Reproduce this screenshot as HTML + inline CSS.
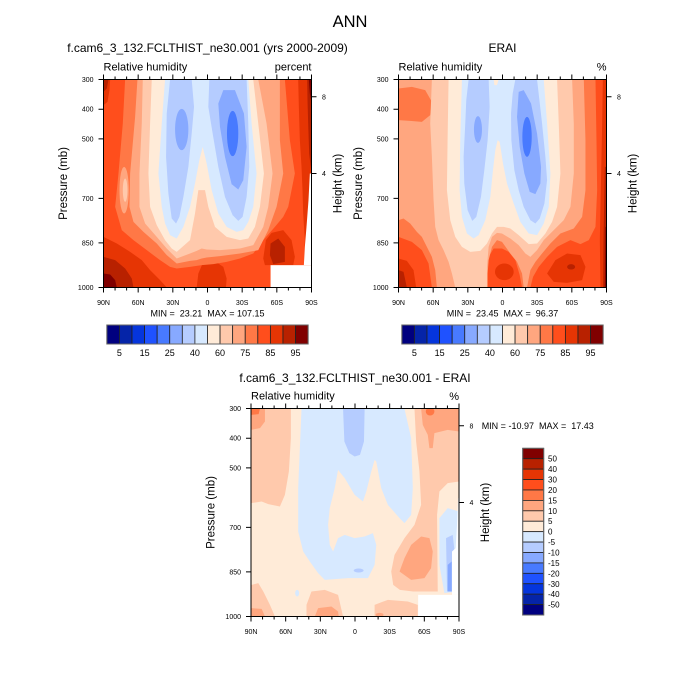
<!DOCTYPE html>
<html><head><meta charset="utf-8"><style>
html,body{margin:0;padding:0;background:#fff;}
svg{display:block;font-family:"Liberation Sans",Arial,sans-serif;}
</style></head><body>
<svg width="700" height="700" viewBox="0 0 700 700" xmlns="http://www.w3.org/2000/svg">
<defs>
<g id="frame">
<rect x="0" y="0" width="208" height="208" fill="none" stroke="#000" stroke-width="1"/>
<path fill="none" stroke="#000" stroke-width="1" d="M0 0V-5M11.56 0V-3M23.11 0V-3M34.67 0V-5M46.22 0V-3M57.78 0V-3M69.33 0V-5M80.89 0V-3M92.44 0V-3M104 0V-5M115.56 0V-3M127.11 0V-3M138.67 0V-5M150.22 0V-3M161.78 0V-3M173.33 0V-5M184.89 0V-3M196.44 0V-3M208 0V-5"/>
<path fill="none" stroke="#000" stroke-width="1" d="M0 208V213M11.56 208V211M23.11 208V211M34.67 208V213M46.22 208V211M57.78 208V211M69.33 208V213M80.89 208V211M92.44 208V211M104 208V213M115.56 208V211M127.11 208V211M138.67 208V213M150.22 208V211M161.78 208V211M173.33 208V213M184.89 208V211M196.44 208V211M208 208V213"/>
<path fill="none" stroke="#000" stroke-width="1" d="M0 0H-5M0 29.71H-5M0 59.43H-5M0 118.86H-5M0 163.43H-5M0 208H-5M208 17.3H213M208 94H213"/>
<g font-size="7" text-anchor="end">
<text x="-10" y="2.5">300</text>
<text x="-10" y="32.2">400</text>
<text x="-10" y="61.9">500</text>
<text x="-10" y="121.4">700</text>
<text x="-10" y="165.9">850</text>
<text x="-10" y="210.5">1000</text>
</g>
<g font-size="7" text-anchor="middle">
<text x="0" y="225.5">90N</text>
<text x="34.67" y="225.5">60N</text>
<text x="69.33" y="225.5">30N</text>
<text x="104" y="225.5">0</text>
<text x="138.67" y="225.5">30S</text>
<text x="173.33" y="225.5">60S</text>
<text x="208" y="225.5">90S</text>
</g>
<g font-size="7">
<text x="218.5" y="19.8">8</text>
<text x="218.5" y="96.5">4</text>
</g>
<text font-size="11" x="0" y="-9">Relative humidity</text>
<text font-size="11.5" text-anchor="middle" transform="translate(-36.5,104) rotate(-90)">Pressure (mb)</text>
<text font-size="11.5" text-anchor="middle" transform="translate(238,104) rotate(-90)">Height (km)</text>
</g>
</defs>

<text x="350" y="27" font-size="16.5" text-anchor="middle">ANN</text>
<text x="207.5" y="52" font-size="12" text-anchor="middle">f.cam6_3_132.FCLTHIST_ne30.001 (yrs 2000-2009)</text>
<text x="502.5" y="52" font-size="12" text-anchor="middle">ERAI</text>
<text x="355" y="382" font-size="12" text-anchor="middle">f.cam6_3_132.FCLTHIST_ne30.001 - ERAI</text>
<text x="311.5" y="70.5" font-size="11" text-anchor="end">percent</text>
<text x="606.5" y="70.5" font-size="11" text-anchor="end">%</text>
<text x="459" y="400" font-size="11" text-anchor="end">%</text>

<!-- Top-left panel -->
<g transform="translate(103.5,79.5)">
<svg x="0" y="0" width="208" height="208" viewBox="160 118 625 624" preserveAspectRatio="none">
<rect x="160" y="118" width="625" height="624" fill="#ff4e1c"/>
<polygon fill="#e63504" points="160,118 180,118 178,150 172,185 160,195"/>
<polygon fill="#e63504" points="745,118 785,118 785,675 762,675 765,600 760,520 758,450 755,380 750,300 747,200"/>
<polygon fill="#e63504" points="160,590 200,610 240,635 275,660 300,690 330,720 350,742 160,742"/>
<polygon fill="#e63504" points="440,742 445,700 460,665 490,660 520,680 530,715 528,742"/>
<polygon fill="#e63504" points="640,655 648,600 665,578 700,570 725,600 735,650 730,675 662,675 645,675"/>
<polygon fill="#b82100" points="160,118 175,118 170,145 160,155"/>
<polygon fill="#b82100" points="772,118 785,118 785,400 778,340 775,250 773,180"/>
<polygon fill="#b82100" points="160,650 195,660 225,685 245,715 250,742 160,742"/>
<polygon fill="#b82100" points="662,610 685,595 705,620 705,665 670,672 660,645"/>
<polygon fill="#800000" points="160,700 180,703 195,720 200,742 160,742"/>
<polygon fill="#800000" points="777,118 785,118 785,190 780,160"/>
<polygon fill="#ff7846" points="225,118 705,118 720,300 735,400 715,500 700,530 675,560 640,600 610,640 570,655 530,665 490,672 455,675 420,680 380,685 360,680 330,660 290,630 250,600 215,570 195,500 205,400 218,250"/>
<polygon fill="#ffa67f" points="262,118 690,118 690,300 700,400 680,500 655,570 625,630 570,640 510,648 470,652 455,655 440,660 420,662 380,670 350,645 320,610 280,575 250,545 238,500 240,400 255,230"/>
<ellipse fill="#ffa67f" cx="222" cy="450" rx="14" ry="70"/>
<ellipse fill="#ffc9ac" cx="225" cy="450" rx="7" ry="35"/>
<polygon fill="#ffc9ac" points="278,118 625,118 650,250 668,400 655,500 640,560 610,615 570,625 510,630 470,628 455,625 440,632 420,640 380,655 350,625 320,590 285,550 268,500 268,400 275,250"/>
<polygon fill="#ffebd8" points="305,118 610,118 625,250 642,400 630,500 615,560 595,595 570,600 530,590 495,560 475,500 465,450 445,450 435,520 420,600 380,635 365,625 345,600 320,555 300,500 295,400 300,250"/>
<polygon fill="#d7e9ff" points="345,118 595,118 605,250 620,400 610,500 595,545 580,570 560,575 530,560 505,520 485,450 470,370 458,320 448,360 435,430 420,500 400,560 380,595 360,585 345,550 335,500 325,400 335,250"/>
<polygon fill="#b5ccff" points="360,118 425,118 432,200 425,280 415,380 400,470 388,530 378,550 365,535 355,460 348,350 350,220"/>
<polygon fill="#b5ccff" points="478,118 590,118 595,250 598,380 590,470 578,530 565,542 548,525 525,470 505,380 488,280 475,200"/>
<ellipse fill="#87a9ff" cx="395" cy="268" rx="20" ry="62"/>
<polygon fill="#87a9ff" points="520,150 555,150 582,220 590,320 580,420 565,448 545,432 525,350 510,260 505,190"/>
<ellipse fill="#487aff" cx="548" cy="280" rx="17" ry="68"/>
<rect x="662" y="675" width="123" height="67" fill="#fff"/>
<polygon fill="#fff" points="785,400 780,400 776,480 770,560 765,620 762,675 785,675"/>
</svg>
<use href="#frame"/>
</g>

<!-- Top-right panel -->
<g transform="translate(398.5,79.5)">
<svg x="0" y="0" width="208" height="208" viewBox="145 118 623 624" preserveAspectRatio="none">
<rect x="145" y="118" width="623" height="624" fill="#ff4e1c"/>
<polygon fill="#ff7846" points="145,118 735,118 738,300 740,450 735,560 715,600 690,612 660,600 620,620 590,650 565,680 548,710 540,742 515,742 508,705 495,660 475,635 455,625 430,625 415,650 410,700 410,742 245,742 235,670 215,630 185,605 145,590"/>
<polygon fill="#ffa67f" points="145,118 700,118 705,300 705,450 695,530 670,565 630,580 600,610 575,640 555,665 540,690 530,742 520,742 515,700 500,665 480,640 455,605 440,600 425,620 415,660 412,700 412,742 260,742 255,690 245,650 230,620 215,590 200,575 180,550 160,535 145,540"/>
<polygon fill="#ff7846" points="145,145 185,140 225,150 245,185 240,225 215,245 180,242 145,240"/>
<polygon fill="#ffc9ac" points="245,118 665,118 670,250 670,400 660,500 640,540 610,570 580,600 560,630 540,650 525,640 505,615 480,595 455,580 440,578 425,590 415,620 410,680 410,742 315,742 305,700 295,665 280,630 265,600 255,560 250,480 245,350 240,250"/>
<polygon fill="#ffebd8" points="295,118 620,118 625,250 630,400 620,500 605,545 585,580 560,610 535,612 505,585 480,565 460,560 440,560 425,580 410,610 390,632 360,635 335,620 315,590 300,540 290,450 292,300"/>
<polygon fill="#d7e9ff" points="335,118 430,118 432,135 440,135 445,118 580,118 590,250 600,400 595,500 580,550 560,585 535,580 510,545 490,490 470,430 458,370 448,305 442,300 435,330 428,390 420,470 405,540 385,585 370,595 350,580 335,530 328,450 330,300"/>
<polygon fill="#b5ccff" points="355,118 415,118 418,200 412,300 402,390 392,470 378,530 366,542 352,510 342,430 340,350 345,250 348,180"/>
<polygon fill="#b5ccff" points="495,118 560,118 575,250 585,350 590,420 582,490 568,535 555,550 540,540 520,500 505,450 492,390 483,300 482,220 487,160"/>
<ellipse fill="#87a9ff" cx="383" cy="268" rx="12" ry="40"/>
<polygon fill="#87a9ff" points="505,155 520,150 542,190 560,280 572,380 570,430 555,462 538,455 522,400 508,320 500,230"/>
<ellipse fill="#487aff" cx="530" cy="290" rx="14" ry="60"/>
<polygon fill="#e63504" points="757,118 768,118 768,742 750,742 748,600 752,400 755,250"/>
<polygon fill="#b82100" points="763,380 768,380 768,742 758,742 759,600"/>
<polygon fill="#800000" points="765,560 768,560 768,742 763,742"/>
<polygon fill="#e63504" points="145,655 170,662 190,690 198,742 145,742"/>
<polygon fill="#b82100" points="145,690 160,695 170,742 145,742"/>
<ellipse fill="#e63504" cx="462" cy="695" rx="28" ry="25"/>
<polygon fill="#e63504" points="590,700 615,660 650,640 690,645 705,680 695,720 650,728 610,725"/>
<ellipse fill="#b82100" cx="662" cy="680" rx="12" ry="8"/>
</svg>
<use href="#frame"/>
</g>

<!-- Bottom panel -->
<g transform="translate(251,408.5)">
<svg x="0" y="0" width="208" height="208" viewBox="152 131 626 624" preserveAspectRatio="none">
<rect x="152" y="131" width="626" height="624" fill="#ffebd8"/>
<polygon fill="#ffc9ac" points="152,131 272,131 272,220 266,320 254,390 239,425 204,418 184,410 152,415"/>
<polygon fill="#ffa67f" points="152,131 194,131 194,170 179,190 152,195"/>
<polygon fill="#ff7846" points="152,131 179,131 175,148 152,150"/>
<polygon fill="#ffc9ac" points="644,131 778,131 778,350 744,355 719,380 712,450 714,680 640,680 600,675 580,660 574,620 584,570 614,520 644,480 664,420 659,320 649,230"/>
<polygon fill="#ffa67f" points="664,131 778,131 778,200 744,195 704,205 699,250 689,250 684,210 669,180"/>
<ellipse fill="#ff7846" cx="691" cy="140" rx="13" ry="12"/>
<polygon fill="#ffa67f" points="599,620 614,580 634,540 664,515 689,520 699,560 694,610 674,640 634,645"/>
<polygon fill="#d7e9ff" points="304,132 614,132 634,220 639,370 634,450 614,475 599,460 564,420 544,370 529,290 524,285 514,320 499,380 489,410 464,390 434,340 414,315 404,370 389,430 384,480 389,540 399,560 414,520 434,510 464,520 494,515 519,505 529,540 524,600 504,640 444,640 374,645 354,625 329,590 309,560 294,500 294,370"/>
<polygon fill="#b5ccff" points="429,131 494,131 492,230 480,270 464,275 448,265 433,230 431,180"/>
<ellipse fill="#b5ccff" cx="476" cy="617" rx="15" ry="6"/>
<polygon fill="#d7e9ff" points="719,460 744,430 778,440 778,680 734,685 719,600"/>
<polygon fill="#b5ccff" points="739,520 759,510 766,570 762,680 742,680"/>
<polygon fill="#87a9ff" points="744,600 756,590 756,680 744,680"/>
<polygon fill="#ffc9ac" points="154,660 174,655 189,680 209,720 224,755 152,755 152,660"/>
<polygon fill="#ffa67f" points="152,730 184,732 194,755 152,755"/>
<polygon fill="#ffc9ac" points="319,720 334,680 374,675 414,690 429,755 319,755"/>
<polygon fill="#ffa67f" points="344,755 354,730 394,725 414,740 416,755"/>
<polygon fill="#ffc9ac" points="524,720 564,705 624,710 654,720 654,755 524,755"/>
<ellipse fill="#ffa67f" cx="539" cy="750" rx="12" ry="6"/>
<ellipse fill="#d7e9ff" cx="291" cy="685" rx="6" ry="10"/>
<rect x="655" y="690" width="123" height="65" fill="#fff"/>
<polygon fill="#fff" points="778,400 775,400 772,480 768,550 757,560 757,690 778,690"/>
</svg>
<use href="#frame"/>
</g>

<!-- MIN/MAX texts -->
<text x="207.5" y="316.5" font-size="9" text-anchor="middle" xml:space="preserve" style="white-space:pre">MIN =  23.21  MAX = 107.15</text>
<text x="502.5" y="316.5" font-size="9" text-anchor="middle" xml:space="preserve" style="white-space:pre">MIN =  23.45  MAX =  96.37</text>
<text x="481.7" y="429" font-size="9" xml:space="preserve" style="white-space:pre">MIN = -10.97  MAX =  17.43</text>

<!-- Top-left colorbar -->
<g stroke="#222" stroke-width="0.8">
<rect x="106.85" y="325" width="12.58" height="19" fill="#00007f"/>
<rect x="119.43" y="325" width="12.58" height="19" fill="#0524a8"/>
<rect x="132.01" y="325" width="12.58" height="19" fill="#0535dc"/>
<rect x="144.59" y="325" width="12.58" height="19" fill="#1f52ff"/>
<rect x="157.17" y="325" width="12.58" height="19" fill="#487aff"/>
<rect x="169.75" y="325" width="12.58" height="19" fill="#87a9ff"/>
<rect x="182.33" y="325" width="12.58" height="19" fill="#b5ccff"/>
<rect x="194.91" y="325" width="12.58" height="19" fill="#d7e9ff"/>
<rect x="207.49" y="325" width="12.58" height="19" fill="#ffebd8"/>
<rect x="220.07" y="325" width="12.58" height="19" fill="#ffc9ac"/>
<rect x="232.65" y="325" width="12.58" height="19" fill="#ffa67f"/>
<rect x="245.23" y="325" width="12.58" height="19" fill="#ff7846"/>
<rect x="257.81" y="325" width="12.58" height="19" fill="#ff4e1c"/>
<rect x="270.39" y="325" width="12.58" height="19" fill="#e63504"/>
<rect x="282.97" y="325" width="12.58" height="19" fill="#b82100"/>
<rect x="295.55" y="325" width="12.58" height="19" fill="#800000"/>
</g>
<rect x="106.85" y="325" width="201.28" height="19" fill="none" stroke="#666" stroke-width="1"/>
<g font-size="9" text-anchor="middle">
<text x="119.43" y="356">5</text>
<text x="144.59" y="356">15</text>
<text x="169.75" y="356">25</text>
<text x="194.91" y="356">40</text>
<text x="220.07" y="356">60</text>
<text x="245.23" y="356">75</text>
<text x="270.39" y="356">85</text>
<text x="295.55" y="356">95</text>
</g>

<!-- Top-right colorbar -->
<g stroke="#222" stroke-width="0.8">
<rect x="401.85" y="325" width="12.58" height="19" fill="#00007f"/>
<rect x="414.43" y="325" width="12.58" height="19" fill="#0524a8"/>
<rect x="427.01" y="325" width="12.58" height="19" fill="#0535dc"/>
<rect x="439.59" y="325" width="12.58" height="19" fill="#1f52ff"/>
<rect x="452.17" y="325" width="12.58" height="19" fill="#487aff"/>
<rect x="464.75" y="325" width="12.58" height="19" fill="#87a9ff"/>
<rect x="477.33" y="325" width="12.58" height="19" fill="#b5ccff"/>
<rect x="489.91" y="325" width="12.58" height="19" fill="#d7e9ff"/>
<rect x="502.49" y="325" width="12.58" height="19" fill="#ffebd8"/>
<rect x="515.07" y="325" width="12.58" height="19" fill="#ffc9ac"/>
<rect x="527.65" y="325" width="12.58" height="19" fill="#ffa67f"/>
<rect x="540.23" y="325" width="12.58" height="19" fill="#ff7846"/>
<rect x="552.81" y="325" width="12.58" height="19" fill="#ff4e1c"/>
<rect x="565.39" y="325" width="12.58" height="19" fill="#e63504"/>
<rect x="577.97" y="325" width="12.58" height="19" fill="#b82100"/>
<rect x="590.55" y="325" width="12.58" height="19" fill="#800000"/>
</g>
<rect x="401.85" y="325" width="201.28" height="19" fill="none" stroke="#666" stroke-width="1"/>
<g font-size="9" text-anchor="middle">
<text x="414.43" y="356">5</text>
<text x="439.59" y="356">15</text>
<text x="464.75" y="356">25</text>
<text x="489.91" y="356">40</text>
<text x="515.07" y="356">60</text>
<text x="540.23" y="356">75</text>
<text x="565.39" y="356">85</text>
<text x="590.55" y="356">95</text>
</g>

<!-- Bottom vertical colorbar -->
<g stroke="#222" stroke-width="0.8">
<rect x="522.7" y="448.3" width="21" height="10.42" fill="#800000"/>
<rect x="522.7" y="458.72" width="21" height="10.42" fill="#b82100"/>
<rect x="522.7" y="469.14" width="21" height="10.42" fill="#e63504"/>
<rect x="522.7" y="479.56" width="21" height="10.42" fill="#ff4e1c"/>
<rect x="522.7" y="489.98" width="21" height="10.42" fill="#ff7846"/>
<rect x="522.7" y="500.4" width="21" height="10.42" fill="#ffa67f"/>
<rect x="522.7" y="510.82" width="21" height="10.42" fill="#ffc9ac"/>
<rect x="522.7" y="521.24" width="21" height="10.42" fill="#ffebd8"/>
<rect x="522.7" y="531.66" width="21" height="10.42" fill="#d7e9ff"/>
<rect x="522.7" y="542.08" width="21" height="10.42" fill="#b5ccff"/>
<rect x="522.7" y="552.5" width="21" height="10.42" fill="#87a9ff"/>
<rect x="522.7" y="562.92" width="21" height="10.42" fill="#487aff"/>
<rect x="522.7" y="573.34" width="21" height="10.42" fill="#1f52ff"/>
<rect x="522.7" y="583.76" width="21" height="10.42" fill="#0535dc"/>
<rect x="522.7" y="594.18" width="21" height="10.42" fill="#0524a8"/>
<rect x="522.7" y="604.6" width="21" height="10.42" fill="#00007f"/>
</g>
<rect x="522.7" y="448.3" width="21" height="166.72" fill="none" stroke="#666" stroke-width="1"/>
<g font-size="8">
<text x="548" y="461.7">50</text>
<text x="548" y="472.1">40</text>
<text x="548" y="482.6">30</text>
<text x="548" y="493">20</text>
<text x="548" y="503.4">15</text>
<text x="548" y="513.8">10</text>
<text x="548" y="524.2">5</text>
<text x="548" y="534.7">0</text>
<text x="548" y="545.1">-5</text>
<text x="548" y="555.5">-10</text>
<text x="548" y="565.9">-15</text>
<text x="548" y="576.3">-20</text>
<text x="548" y="586.8">-30</text>
<text x="548" y="597.2">-40</text>
<text x="548" y="607.6">-50</text>
</g>
</svg>
</body></html>
